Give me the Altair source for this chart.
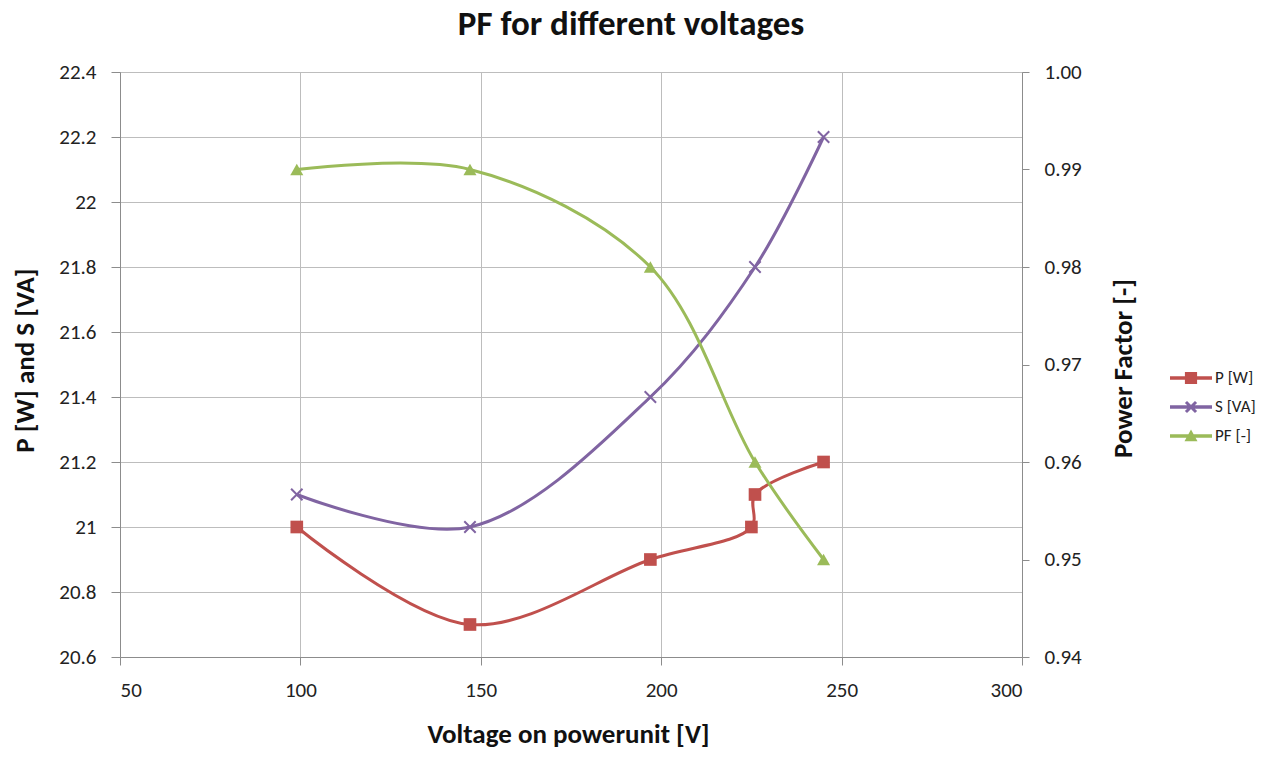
import altair as alt
import pandas as pd

# ---- data ----
voltage_p = [99, 147, 197, 225, 226, 245]
p_w = [21.0, 20.7, 20.9, 21.0, 21.1, 21.2]

voltage_s = [99, 147, 197, 226, 245]
s_va = [21.1, 21.0, 21.4, 21.8, 22.2]

voltage_pf = [99, 147, 197, 226, 245]
pf = [0.99, 0.99, 0.98, 0.96, 0.95]

series_names = ["P [W]", "S [VA]", "PF [-]"]
series_colors = ["#C0504D", "#8064A2", "#9BBB59"]

x_ticks = [50, 100, 150, 200, 250, 300]
left_ticks = [20.6, 20.8, 21.0, 21.2, 21.4, 21.6, 21.8, 22.0, 22.2, 22.4]
right_ticks = [0.94, 0.95, 0.96, 0.97, 0.98, 0.99, 1.00]

FONT = "Carlito, Lato, 'Liberation Sans', sans-serif"
GRID = "#BDBDBD"
AXC = "#8C8C8C"
LBL = 21
TTL = 27

df_p = pd.DataFrame({"V": voltage_p, "val": p_w, "series": series_names[0]})
df_s = pd.DataFrame({"V": voltage_s, "val": s_va, "series": series_names[1]})
df_pf = pd.DataFrame({"V": voltage_pf, "val": pf, "series": series_names[2]})
df_leg = pd.DataFrame({"V": [100, 100, 100], "val": [21.0, 21.0, 21.0], "series": series_names})

x_axis = alt.Axis(values=x_ticks, title="Voltage on powerunit [V]", grid=True, gridColor=GRID,
                  domainColor=AXC, tickColor=AXC, tickSize=8, labelFontSize=LBL, labelPadding=14,
                  labelFont=FONT, labelColor="#222", titleFont=FONT, titleFontSize=27,
                  titleFontWeight="bold", titleColor="#111", titleX=448, titleY=85,
                  titleBaseline="alphabetic", titleAlign="center")
x_enc = alt.X("V:Q", scale=alt.Scale(domain=[50, 300], nice=False, zero=False), axis=x_axis)

left_axis = alt.Axis(values=left_ticks, title="P [W] and S [VA]", grid=True, gridColor=GRID,
                     domainColor=AXC, tickColor=AXC, tickSize=9, labelFontSize=LBL, labelPadding=15,
                     labelFont=FONT, labelColor="#222", titleFont=FONT, titleFontSize=TTL,
                     titleFontWeight="bold", titleColor="#111",
                     labelExpr="round(datum.value*10)/10 + ''",
                     titleX=-95, titleY=288, titleAngle=270, titleBaseline="middle", titleAlign="center")
y_left = alt.Y("val:Q", scale=alt.Scale(domain=[20.6, 22.4], nice=False, zero=False), axis=left_axis)

right_axis = alt.Axis(values=right_ticks, title="Power Factor [-]", orient="right", grid=False,
                      domainColor=AXC, tickColor=AXC, tickSize=7, labelFontSize=LBL, labelPadding=15,
                      labelFont=FONT, labelColor="#222", titleFont=FONT, titleFontSize=TTL,
                      titleFontWeight="bold", titleColor="#111", format=".2f",
                      titleX=101, titleY=296, titleAngle=270, titleBaseline="middle", titleAlign="center")
y_right = alt.Y("val:Q", scale=alt.Scale(domain=[0.94, 1.00], nice=False, zero=False), axis=right_axis)

# legend symbols: line + marker, all filled paths in [-1,1]
t = 0.083
line_path = f"M-1,{-t}H1V{t}H-1Z"
sq = 0.29
p_sym = line_path + f"M{-sq},{-sq}H{sq}V{sq}H{-sq}Z"
a, w = 0.24, 0.05
s_sym = line_path + (f"M{-a+w},{-a-w}L{a+w},{a-w}L{a-w},{a+w}L{-a-w},{-a+w}Z"
                     f"M{-a-w},{a-w}L{a-w},{-a-w}L{a+w},{-a+w}L{-a+w},{a+w}Z")
tr = 0.31
pf_sym = line_path + f"M0,{-tr}L{tr},{tr * 0.8}L{-tr},{tr * 0.8}Z"

legend_props = dict(title=None, orient="none", legendX=1050, legendY=285,
                    symbolSize=1764, labelFontSize=17, labelFont=FONT,
                    labelColor="#222", labelOffset=3, rowPadding=0,
                    padding=0, symbolOpacity=1, symbolStrokeWidth=0)

p_line = alt.Chart(df_p).mark_line(interpolate="catmull-rom", color=series_colors[0], strokeWidth=3).encode(x=x_enc, y=y_left)
p_pts = alt.Chart(df_p).mark_point(shape="square", filled=True, size=160, opacity=1, color=series_colors[0]).encode(x=x_enc, y=y_left)
s_line = alt.Chart(df_s).mark_line(interpolate="catmull-rom", color=series_colors[1], strokeWidth=3).encode(x=x_enc, y=y_left)
s_pts = alt.Chart(df_s).mark_point(shape="M-1,-1L1,1M-1,1L1,-1", filled=False, size=130, opacity=1,
                                   strokeWidth=2, color=series_colors[1]).encode(x=x_enc, y=y_left)

legend_layer = alt.Chart(df_leg).transform_filter("false").mark_point(filled=True, opacity=1).encode(
    x=x_enc, y=y_left,
    color=alt.Color("series:N", scale=alt.Scale(domain=series_names, range=series_colors),
                    legend=alt.Legend(**legend_props)),
    shape=alt.Shape("series:N", scale=alt.Scale(domain=series_names, range=[p_sym, s_sym, pf_sym]),
                    legend=alt.Legend(**legend_props)),
)

pf_line = alt.Chart(df_pf).mark_line(interpolate="catmull-rom", color=series_colors[2], strokeWidth=3).encode(x=x_enc, y=y_right)
pf_pts = alt.Chart(df_pf).mark_point(shape="triangle-up", filled=True, size=170, opacity=1, color=series_colors[2]).encode(x=x_enc, y=y_right)

left = alt.layer(p_line, p_pts, s_line, s_pts, legend_layer)
right = alt.layer(pf_line, pf_pts)

chart = alt.layer(left, right).resolve_scale(y="independent").properties(
    width=902, height=585,
    title=alt.TitleParams("PF for different voltages", fontSize=35, fontWeight="bold", font=FONT,
                          anchor="middle", frame="group", dx=60, offset=19, color="#111"),
    autosize=alt.AutoSizeParams(type="none"),
    padding={"left": 112, "top": 64, "right": 244, "bottom": 92},
).configure_view(stroke=None).configure(background="white")

chart.save("out.html", embed_options={"renderer": "svg", "actions": False})
